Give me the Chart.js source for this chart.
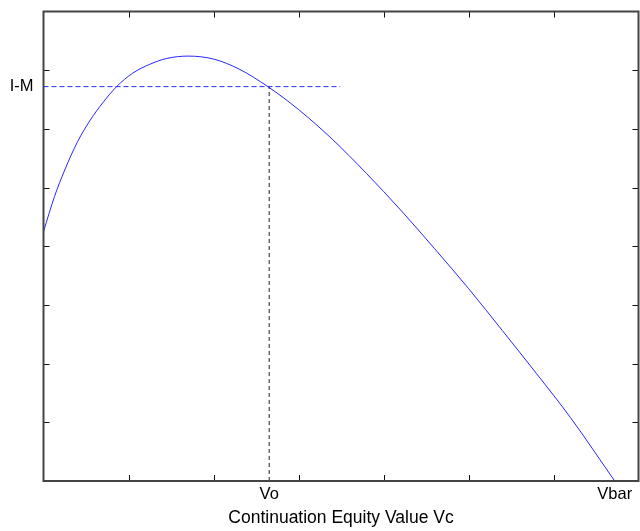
<!DOCTYPE html>
<html><head><meta charset="utf-8">
<script src="https://cdn.jsdelivr.net/npm/chart.js@4"></script>
<style>html,body{margin:0;padding:0;background:#fff;overflow:hidden;}</style>
</head><body>
<canvas id="c" width="640" height="531"></canvas>
<script>
// ---- data ----
const curveX = [0, 0.13, 0.25, 0.40, 0.55, 0.70, 0.86, 1.05, 1.25, 1.45, 1.70, 2.00, 2.30, 2.64, 3.00, 3.40, 3.80, 4.20, 4.60, 5.00, 5.40, 5.80, 6.20, 6.72];
const curveY = [4.25, 4.85, 5.30, 5.78, 6.15, 6.45, 6.72, 6.95, 7.10, 7.20, 7.24, 7.19, 7.02, 6.72, 6.33, 5.82, 5.24, 4.62, 3.96, 3.28, 2.56, 1.83, 1.08, 0];
const levelIM = 6.72;
const valueVo = 2.655;
const valueVbar = 6.72;
const levelLineEnd = 3.49;
const xTickValues = [1, 2, 3, 4, 5, 6];
const yTickValues = [1, 2, 3, 4, 5, 6, 7];
const xLabelValues = [valueVo, valueVbar];
const xLabelTexts = ['Vo', 'Vbar'];
const yLabelValues = [levelIM];
const yLabelTexts = ['I-M'];
const xTitle = 'Continuation Equity Value Vc';

const FONT = "'Liberation Sans', Arial, sans-serif";

const frame = {
  id: 'frame',
  afterDraw(chart) {
    const {ctx, chartArea: a, scales: {x, y}} = chart;
    ctx.save();
    ctx.strokeStyle = '#111';
    ctx.lineWidth = 1;
    ctx.beginPath();
    xTickValues.forEach(v => {
      const px = Math.round(x.getPixelForValue(v)) + 0.5;
      ctx.moveTo(px, a.bottom); ctx.lineTo(px, a.bottom - 6);
      ctx.moveTo(px, a.top); ctx.lineTo(px, a.top + 6);
    });
    yTickValues.forEach(v => {
      const py = Math.round(y.getPixelForValue(v)) + 0.5;
      ctx.moveTo(a.left, py); ctx.lineTo(a.left + 6, py);
      ctx.moveTo(a.right, py); ctx.lineTo(a.right - 6, py);
    });
    ctx.stroke();
    ctx.strokeStyle = '#444';
    ctx.lineWidth = 2;
    ctx.strokeRect(a.left, a.top, a.right - a.left, a.bottom - a.top);
    ctx.restore();
  }
};

new Chart(document.getElementById('c'), {
  type: 'scatter',
  data: {
    datasets: [
      {
        data: curveX.map((v, i) => ({x: v, y: curveY[i]})),
        showLine: true, borderColor: 'rgb(40,40,255)', borderWidth: 1,
        pointRadius: 0, cubicInterpolationMode: 'monotone', fill: false
      },
      {
        data: [{x: 0, y: levelIM}, {x: levelLineEnd, y: levelIM}],
        showLine: true, borderColor: 'rgb(40,40,255)', borderWidth: 1,
        borderDash: [5, 3], pointRadius: 0
      },
      {
        data: [{x: valueVo, y: 0}, {x: valueVo, y: levelIM}],
        showLine: true, borderColor: '#222', borderWidth: 1,
        borderDash: [4, 3], pointRadius: 0
      }
    ]
  },
  options: {
    responsive: false,
    animation: false,
    devicePixelRatio: 1,
    layout: {padding: {left: 0, right: 1.5, top: 11.5, bottom: 0}},
    plugins: {legend: {display: false}, tooltip: {enabled: false}, title: {display: false}},
    scales: {
      x: {
        type: 'linear', min: 0, max: 7,
        afterBuildTicks(s) { s.ticks = xLabelValues.map(v => ({value: v})); },
        afterFit(s) { s.height = 50; s.paddingLeft = 0; s.paddingRight = 0; },
        grid: {display: false, drawTicks: false},
        border: {display: false},
        ticks: {
          autoSkip: false, maxRotation: 0, padding: 4, color: '#000',
          font: {family: FONT, size: 16.5},
          callback(v) { const i = xLabelValues.indexOf(v); return i >= 0 ? xLabelTexts[i] : ''; }
        },
        title: {display: true, text: xTitle, color: '#000', font: {family: FONT, size: 17.5}, padding: {top: 0, bottom: 2}}
      },
      y: {
        type: 'linear', min: 0, max: 8,
        afterBuildTicks(s) { s.ticks = yLabelValues.map(v => ({value: v})); },
        afterFit(s) { s.width = 43.5; s.paddingTop = 0; s.paddingBottom = 0; },
        grid: {display: false, drawTicks: false},
        border: {display: false},
        ticks: {
          autoSkip: false, padding: 10, color: '#000',
          font: {family: FONT, size: 16.5},
          callback(v) { const i = yLabelValues.indexOf(v); return i >= 0 ? yLabelTexts[i] : ''; }
        }
      }
    }
  },
  plugins: [frame]
});
</script>
</body></html>
